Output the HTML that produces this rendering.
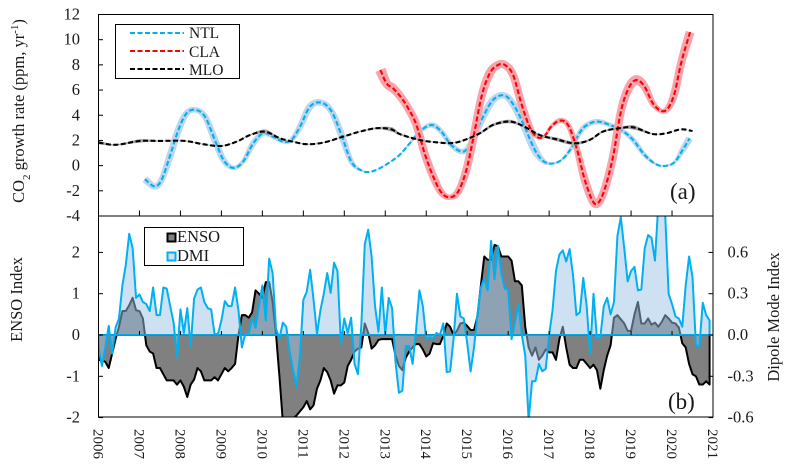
<!DOCTYPE html>
<html>
<head>
<meta charset="utf-8">
<title>CO2 growth rate, ENSO and DMI</title>
<style>
html,body{margin:0;padding:0;background:#fff;width:794px;height:471px;overflow:hidden}
svg{display:block;font-family:"Liberation Serif",serif;fill:#1a1a1a}
</style>
</head>
<body>
<svg id="chart" width="794" height="471" viewBox="0 0 794 471" xmlns="http://www.w3.org/2000/svg">
<defs>
<clipPath id="clipA"><rect x="98.5" y="14.5" width="614.5" height="201.5"/></clipPath>
<clipPath id="clipB"><rect x="98.5" y="216" width="614.5" height="201"/></clipPath>
</defs>
<g id="panelA" clip-path="url(#clipA)"></g>
<g id="panelB" clip-path="url(#clipB)"></g>
<g id="axes"></g>
<g id="labels" font-size="16.5"></g>

<text transform="translate(24,111) rotate(-90)" text-anchor="middle" font-size="16.5">CO<tspan baseline-shift="sub" font-size="11">2</tspan> growth rate (ppm, yr<tspan baseline-shift="super" font-size="11">-1</tspan>)</text>
<text transform="translate(22,299.5) rotate(-90)" text-anchor="middle" font-size="16.5">ENSO Index</text>
<text transform="translate(779,317) rotate(-90)" text-anchor="middle" font-size="16.5">Dipole Mode Index</text>
<text x="670" y="199" font-size="23">(a)</text>
<text x="668" y="409" font-size="23">(b)</text>

<g>
<rect x="115.5" y="24.5" width="124" height="54" fill="#fff" stroke="#000" stroke-width="1"/>
<line x1="130" x2="184" y1="33" y2="33" stroke="#00b0f0" stroke-width="2" stroke-dasharray="5 2.5"/>
<text x="189" y="38" font-size="15.5">NTL</text>
<line x1="130" x2="184" y1="51" y2="51" stroke="#f00" stroke-width="2" stroke-dasharray="5 2.5"/>
<text x="189" y="57" font-size="15.5">CLA</text>
<line x1="130" x2="184" y1="69" y2="69" stroke="#000" stroke-width="2" stroke-dasharray="5 2.5"/>
<text x="189" y="75" font-size="15.5">MLO</text>
</g>
<g>
<rect x="144.5" y="227.5" width="99" height="38" fill="#fff" stroke="#000" stroke-width="1"/>
<rect x="167.5" y="233.5" width="8" height="8" fill="#808080" stroke="#000" stroke-width="2"/>
<text x="177" y="242" font-size="16.5">ENSO</text>
<rect x="167.5" y="252.5" width="8" height="8" fill="#cee1f2" stroke="#00b0f0" stroke-width="2"/>
<text x="177" y="261" font-size="16.5">DMI</text>
</g>
</svg>
<script>
var ntlYears=[2007.13,2007.38,2007.54,2007.74,2007.95,2008.15,2008.38,2008.6,2008.84,2009.05,2009.29,2009.53,2009.78,2010.02,2010.26,2010.51,2010.71,2010.92,2011.16,2011.44,2011.69,2011.93,2012.17,2012.42,2012.62,2012.87,2013.11,2013.35,2013.6,2013.84,2014.13,2014.37,2014.61,2014.9,2015.1,2015.35,2015.63,2015.92,2016.16,2016.4,2016.65,2016.85,2017.05,2017.3,2017.54,2017.79,2018.0,2018.21,2018.48,2018.76,2019.05,2019.33,2019.61,2019.83,2020.06,2020.26,2020.43];
var ntlValues=[-1.08,-1.66,-1.13,0.72,2.83,4.16,4.42,3.89,2.04,0.45,-0.18,0.32,1.78,2.57,2.3,1.9,2.04,3.1,4.68,5.0,4.3,2.44,0.32,-0.39,-0.5,-0.2,0.27,0.85,1.78,2.7,3.23,2.7,1.64,1.11,1.78,3.63,5.21,5.56,4.68,3.1,1.25,0.38,0.16,0.45,1.38,2.83,3.36,3.49,3.23,2.83,2.04,0.85,0.11,-0.02,0.27,1.25,2.17];
var ntlErrors=[0.4,0.35,0.35,0.4,0.4,0.35,0.3,0.35,0.4,0.35,0.25,0.25,0.35,0.3,0.25,0.2,0.25,0.35,0.4,0.35,0.35,0.4,0.3,0.12,0.05,0.05,0.05,0.05,0.12,0.2,0.3,0.3,0.3,0.3,0.35,0.4,0.4,0.35,0.4,0.45,0.45,0.3,0.12,0.12,0.2,0.3,0.3,0.3,0.25,0.25,0.3,0.25,0.12,0.1,0.15,0.35,0.4];
var claYears=[2012.88,2013.03,2013.19,2013.39,2013.56,2013.76,2013.96,2014.17,2014.37,2014.57,2014.78,2014.98,2015.14,2015.35,2015.55,2015.75,2015.92,2016.12,2016.32,2016.52,2016.69,2016.87,2017.05,2017.26,2017.46,2017.66,2017.87,2018.07,2018.19,2018.35,2018.56,2018.76,2018.96,2019.14,2019.33,2019.53,2019.74,2019.9,2020.06,2020.22,2020.44];
var claValues=[7.6,6.54,6.14,5.4,4.55,3.23,0.98,-0.87,-2.14,-2.51,-2.06,-0.34,2.04,5.48,7.33,7.99,7.99,7.2,4.95,3.1,2.3,2.3,3.1,3.57,3.23,1.51,-1.13,-2.85,-2.99,-1.93,0.72,4.42,6.27,6.8,6.27,4.95,4.34,4.55,5.74,8.12,10.6];
var claErrors=[0.6,0.5,0.5,0.45,0.45,0.45,0.45,0.45,0.4,0.3,0.4,0.45,0.45,0.45,0.5,0.45,0.45,0.45,0.45,0.4,0.2,0.15,0.2,0.3,0.3,0.35,0.45,0.45,0.45,0.45,0.45,0.45,0.5,0.55,0.45,0.35,0.25,0.35,0.45,0.45,0.5];
var mloYears=[2006.0,2006.41,2007.01,2007.5,2008.11,2008.56,2009.0,2009.37,2009.7,2010.06,2010.43,2010.75,2011.08,2011.49,2011.97,2012.38,2012.79,2013.15,2013.35,2013.84,2014.25,2014.66,2014.98,2015.31,2015.63,2016.04,2016.36,2016.77,2017.18,2017.62,2017.99,2018.31,2018.72,2019.05,2019.53,2019.86,2020.22,2020.5];
var mloValues=[1.83,1.65,1.96,1.96,1.96,1.7,1.56,1.9,2.43,2.7,2.17,1.9,1.7,1.83,2.3,2.7,2.97,2.88,2.51,2.04,1.85,1.8,2.09,2.57,3.23,3.5,3.15,2.43,2.09,1.77,2.04,2.7,2.97,3.04,2.51,2.57,2.88,2.75];
var mloErrors=[0.2,0.05,0.2,0.05,0.05,0.05,0.05,0.05,0.05,0.25,0.05,0.05,0.05,0.05,0.05,0.05,0.1,0.25,0.1,0.05,0.05,0.05,0.05,0.1,0.15,0.2,0.1,0.1,0.2,0.2,0.1,0.1,0.1,0.25,0.05,0.02,0.02,0.02];

var ensoValues=[-0.6,-0.62,-0.65,-0.8,-0.45,-0.1,0.2,0.58,0.58,0.72,0.9,0.6,
0.58,0.4,-0.25,-0.4,-0.45,-0.8,-0.8,-0.95,-1.1,-1.1,-1.1,-1.2,
-1.1,-1.25,-1.5,-1.2,-1.08,-0.8,-0.88,-1.1,-1.1,-1.1,-1.02,-1.1,
-0.95,-0.8,-0.88,-0.8,-0.7,0,0.48,0.48,0.42,0.55,1.08,1.0,
0.9,1.28,1.28,0.8,0.02,-1.0,-2.1,-2.05,-2.02,-2.02,-1.95,-1.85,
-1.75,-1.6,-1.8,-1.7,-1.3,-1.1,-0.8,-0.9,-1.1,-1.42,-1.22,-1.22,
-1.15,-0.75,-0.6,-0.4,-0.33,-0.3,0.28,0.05,-0.33,-0.25,-0.12,-0.1,
-0.1,-0.1,-0.1,-0.5,-0.75,-0.85,-0.55,-0.4,-0.3,-0.22,-0.22,-0.35,
-0.52,-0.45,-0.2,-0.22,-0.22,-0.02,0.28,0.2,0,0.1,0.28,0.3,
0.22,0.12,0.12,0.45,1.2,1.9,1.82,1.82,2.18,2.15,1.9,1.9,
1.9,1.8,1.3,1.3,1.2,0.2,-0.3,-0.5,-0.3,-0.6,-0.5,-0.35,
-0.42,-0.42,-0.6,-0.1,0.2,-0.3,-0.72,-0.8,-0.8,-0.6,-0.6,-0.7,
-0.8,-0.72,-0.85,-1.3,-0.85,-0.5,-0.25,0.42,0.48,0.38,0.28,0.1,
0.1,0.5,0.8,0.28,0.28,0.4,0.25,0.3,0.2,0.32,0.48,0.4,
0.3,0.28,0.18,-0.2,-0.3,-0.7,-0.95,-1.0,-1.2,-1.2,-1.12,-1.2];

var dmiValues=[-0.09,-0.225,-0.09,0.066,-0.135,0.054,0.12,0.36,0.51,0.735,0.63,0.27,
0.294,0.24,0.225,0.174,0.345,0.144,0.144,0.345,0.336,0.21,0.09,-0.165,
0.186,0.015,0.195,-0.084,0.264,0.33,0.345,0.24,0.195,0.186,0.006,0.006,
0.105,0.246,0.21,0.21,0.345,0.18,-0.09,0.006,0.006,0.126,0.054,0.21,
0.36,0.105,0.555,0.45,0.045,-0.024,0.09,0.06,-0.12,-0.255,-0.375,-0.15,
0.255,0.315,0.474,0.255,0.006,0.18,0.3,0.45,0.306,0.525,0.465,-0.06,
0.12,0.015,0.126,-0.21,-0.285,0.075,0.66,0.765,0.57,0.21,0.024,0.345,
0.006,0.27,0.195,-0.195,-0.42,-0.405,-0.081,-0.081,-0.21,0.03,0.324,0.21,
-0.03,-0.015,-0.03,0.015,0,0.084,-0.27,-0.264,-0.03,0.3,0.135,0.12,
-0.06,-0.264,-0.09,0.15,0.345,0.414,0.324,0.684,0.405,0.645,0.45,0.336,
0.33,-0.03,0.09,0.225,0,-0.15,-0.62,-0.336,-0.336,-0.21,-0.264,-0.246,
0,0.18,0.465,0.585,0.615,0.534,0.624,0.435,0.144,0.165,0.414,0.21,
-0.135,0.3,-0.024,-0.015,0.21,0.27,0.15,0.24,0.72,0.855,0.63,0.39,
0.465,0.495,0.324,0.33,0.63,0.726,0.705,0.54,0.96,1.02,0.87,0.3,
0.225,0.135,0.12,0.06,0.36,0.57,0.42,-0.075,-0.084,0.234,0.144,0.105];

var xTickYears=[2006,2007,2008,2009,2010,2011,2012,2013,2014,2015,2016,2017,2018,2019,2020,2021];
var co2Ticks=[12,10,8,6,4,2,0,-2,-4];
var ensoTicks=[2,1,0,-1,-2];
var dmiTicks=[0.6,0.3,0.0,-0.3,-0.6];
var dmiTickText=["0.6","0.3","0.0","-0.3","-0.6"];

var NS='http://www.w3.org/2000/svg';
function xScale(t){return 98.5+(t-2006)*(614.5/15);}
function yCo2(v){return 14.5+(12-v)*(201.5/16);}
function yEnso(v){return 335-v*41.3;}
function yDmi(v){return 335-v*(41.3/0.3);}
function make(tag,attrs,parent){
  var e=document.createElementNS(NS,tag);
  for(var k in attrs){e.setAttribute(k,attrs[k]);}
  parent.appendChild(e);
  return e;
}
function smooth(ts,vs,es){
  var out=[];
  var n=ts.length;
  for(var i=0;i<n-1;i++){
    var p0=i>0?i-1:i,p3=i<n-2?i+2:i+1;
    var m1=(vs[i+1]-vs[p0])/(ts[i+1]-ts[p0]);
    var m2=(vs[p3]-vs[i])/(ts[p3]-ts[i]);
    var h=ts[i+1]-ts[i];
    for(var s=0;s<8;s++){
      var u=s/8,u2=u*u,u3=u2*u;
      var v=(2*u3-3*u2+1)*vs[i]+(u3-2*u2+u)*h*m1+(-2*u3+3*u2)*vs[i+1]+(u3-u2)*h*m2;
      out.push({t:ts[i]+u*h,v:v,e:es[i]+(es[i+1]-es[i])*u});
    }
  }
  out.push({t:ts[n-1],v:vs[n-1],e:es[n-1]});
  return out;
}
function drawSeries(name,ts,vs,es,color,bandColor){
  var parent=document.getElementById('panelA');
  var pts=smooth(ts,vs,es);
  var px=pts.map(function(p){return [xScale(p.t),yCo2(p.v)];});
  var up='',lo='',ln='';
  var lower=[];
  px.forEach(function(p,i){
    var a=px[Math.max(i-1,0)],b=px[Math.min(i+1,px.length-1)];
    var dx=b[0]-a[0],dy=b[1]-a[1],len=Math.sqrt(dx*dx+dy*dy)||1;
    var off=pts[i].e*9;
    var nx=dy/len*off,ny=-dx/len*off;
    up+=(i?'L':'M')+(p[0]+nx).toFixed(2)+' '+(p[1]+ny).toFixed(2);
    lower.push((p[0]-nx).toFixed(2)+' '+(p[1]-ny).toFixed(2));
    ln+=(i?'L':'M')+p[0].toFixed(2)+' '+p[1].toFixed(2);
  });
  for(var i=lower.length-1;i>=0;i--){lo+='L'+lower[i];}
  var band=make('path',{d:up+lo+'Z',fill:bandColor,stroke:'none'},parent);
  
  
  var line=make('path',{d:ln,fill:'none',stroke:color,'stroke-width':'2.1','stroke-dasharray':'5 2.5'},parent);
  
  
}
drawSeries('ntl',ntlYears,ntlValues,ntlErrors,'#00b0f0','#bcd7ee');
drawSeries('cla',claYears,claValues,claErrors,'#ff0000','#f9a3ac');
drawSeries('mlo',mloYears,mloValues,mloErrors,'#000000','#a6a6a6');

function monthX(i){return xScale(2006+i/12);}
function areaPath(vals,y){
  var d='M'+monthX(0).toFixed(2)+' 335';
  vals.forEach(function(v,i){d+='L'+monthX(i).toFixed(2)+' '+y(v).toFixed(2);});
  return d+'L'+monthX(vals.length-1).toFixed(2)+' 335';
}
var panelB=document.getElementById('panelB');
var ensoArea=make('path',{d:areaPath(ensoValues,yEnso)+'Z',fill:'#808080',stroke:'#000','stroke-width':'2','stroke-linejoin':'round'},panelB);


var dmiFill=make('path',{d:areaPath(dmiValues,yDmi)+'Z',fill:'#9dc3e6','fill-opacity':'0.5',stroke:'none'},panelB);


var dmiLine=make('path',{d:areaPath(dmiValues,yDmi),fill:'none',stroke:'#00b0f0','stroke-width':'2','stroke-linejoin':'round'},panelB);


var zero=make('line',{x1:98.5,x2:713,y1:335,y2:335,stroke:'#00b0f0','stroke-width':'1.8'},panelB);



var axes=document.getElementById('axes');
var labels=document.getElementById('labels');
var frameA=make('rect',{x:98.5,y:14.5,width:614.5,height:201.5,fill:'none',stroke:'#000','stroke-width':'1'},axes);


var frameB=make('rect',{x:98.5,y:216,width:614.5,height:201,fill:'none',stroke:'#000','stroke-width':'1'},axes);



xTickYears.forEach(function(yr){
  var x=xScale(yr);
  var t=make('line',{x1:x,x2:x,y1:216,y2:210.5,stroke:'#000','stroke-width':'1'},axes);
  
  
  var t2=make('line',{x1:x,x2:x,y1:335,y2:331,stroke:'#000','stroke-width':'1'},axes);
  
  
  var lab=make('text',{transform:'translate('+(x-5)+',429) rotate(90)','font-size':'15'},labels);
  
  
  lab.textContent=yr;
});
co2Ticks.forEach(function(v){
  var y=yCo2(v);
  var t=make('line',{x1:98.5,x2:103,y1:y,y2:y,stroke:'#000','stroke-width':'1'},axes);
  
  
  var lab=make('text',{x:80,y:y+5,'text-anchor':'end'},labels);
  
  
  lab.textContent=v;
});
ensoTicks.forEach(function(v){
  var y=yEnso(v);
  var t=make('line',{x1:98.5,x2:103,y1:y,y2:y,stroke:'#000','stroke-width':'1'},axes);
  
  
  var lab=make('text',{x:80,y:y+5,'text-anchor':'end'},labels);
  
  
  lab.textContent=v;
});
dmiTicks.forEach(function(v,i){
  var y=yDmi(v);
  var t=make('line',{x1:713,x2:708.5,y1:y,y2:y,stroke:'#000','stroke-width':'1'},axes);
  
  
  var lab=make('text',{x:727.5,y:y+5},labels);
  
  
  lab.textContent=dmiTickText[i];
});
</script>
</body>
</html>
